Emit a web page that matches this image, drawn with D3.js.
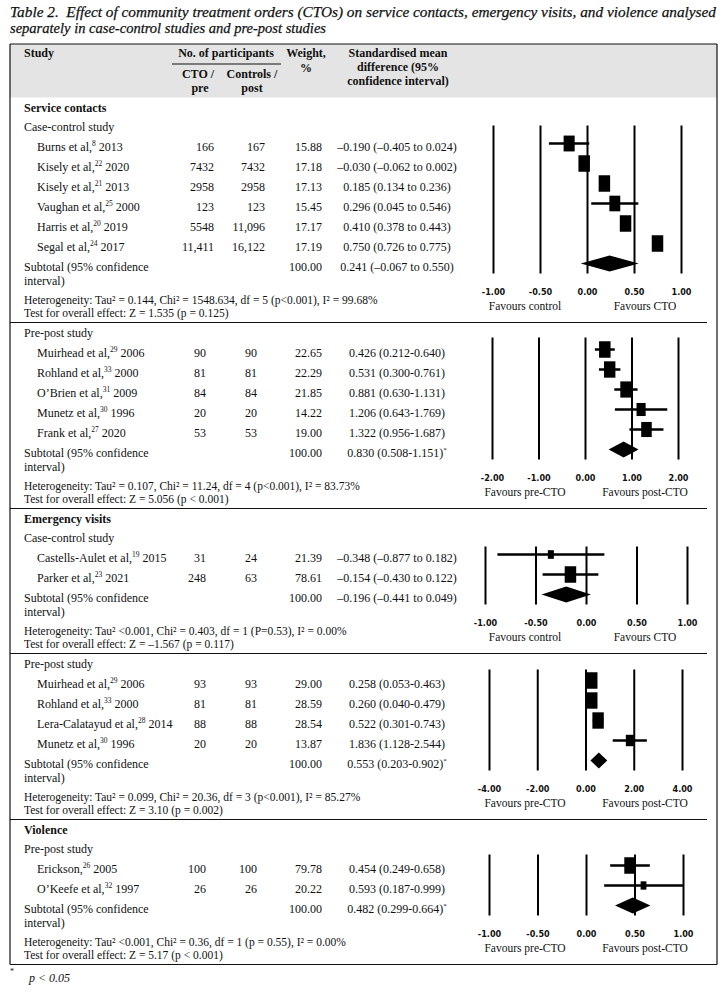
<!DOCTYPE html>
<html>
<head>
<meta charset="utf-8">
<script src="https://cdn.jsdelivr.net/npm/d3@7"></script>
<style>
  body { margin: 0; background: #fff; }
  svg text { font-family: "Liberation Serif", "Times New Roman", serif; fill: #111; }
</style>
</head>
<body>
<script>
// ---- panel level data (one entry per sub-table)
const panelSection = ['Service contacts', '', 'Emergency visits', '', 'Violence']
const panelDesign = ['Case-control study', 'Pre-post study', 'Case-control study', 'Pre-post study', 'Pre-post study']
const panelTicks = [
    [-1, -0.5, 0, 0.5, 1],
    [-2, -1, 0, 1, 2],
    [-1, -0.5, 0, 0.5, 1],
    [-4, -2, 0, 2, 4],
    [-1, -0.5, 0, 0.5, 1]
]
const favoursLeft = ['Favours control', 'Favours pre-CTO', 'Favours control', 'Favours pre-CTO', 'Favours pre-CTO']
const favoursRight = ['Favours CTO', 'Favours post-CTO', 'Favours CTO', 'Favours post-CTO', 'Favours post-CTO']
const subtotalSmd = [0.241, 0.830, -0.196, 0.553, 0.482]
const subtotalLow = [-0.067, 0.508, -0.441, 0.203, 0.299]
const subtotalHigh = [0.550, 1.151, 0.049, 0.902, 0.664]
const subtotalSig = [false, true, false, true, true]
const heterogeneity = [
    'Heterogeneity: Tau² = 0.144, Chi² = 1548.634, df = 5 (p<0.001), I² = 99.68%',
    'Heterogeneity: Tau² = 0.107, Chi² = 11.24, df = 4 (p<0.001), I² = 83.73%',
    'Heterogeneity: Tau² <0.001, Chi² = 0.403, df = 1 (P=0.53), I²  = 0.00%',
    'Heterogeneity: Tau² = 0.099, Chi² = 20.36, df = 3 (p<0.001), I² = 85.27%',
    'Heterogeneity: Tau² <0.001, Chi² = 0.36, df = 1 (p = 0.55), I² = 0.00%'
]
const overallEffect = [
    'Test for overall effect: Z = 1.535 (p = 0.125)',
    'Test for overall effect: Z = 5.056 (p < 0.001)',
    'Test for overall effect: Z = –1.567 (p = 0.117)',
    'Test for overall effect: Z = 3.10 (p = 0.002)',
    'Test for overall effect: Z = 5.17 (p < 0.001)'
]

// ---- study level data
const studyPanel = [0, 0, 0, 0, 0, 0, 1, 1, 1, 1, 1, 2, 2, 3, 3, 3, 3, 4, 4]
const studyAuthor = ['Burns et al,', 'Kisely et al,', 'Kisely et al,', 'Vaughan et al,', 'Harris et al,', 'Segal et al,',
    'Muirhead et al,', 'Rohland et al,', 'O’Brien et al,', 'Munetz et al,', 'Frank et al,',
    'Castells-Aulet et al,', 'Parker et al,',
    'Muirhead et al,', 'Rohland et al,', 'Lera-Calatayud et al,', 'Munetz et al,',
    'Erickson,', 'O’Keefe et al,']
const studyRef = ['8', '22', '21', '25', '20', '24', '29', '33', '31', '30', '27', '19', '23', '29', '33', '28', '30', '26', '32']
const studyYear = ['2013', '2020', '2013', '2000', '2019', '2017', '2006', '2000', '2009', '1996', '2020', '2015', '2021',
    '2006', '2000', '2014', '1996', '2005', '1997']
const nCto = [166, 7432, 2958, 123, 5548, 11411, 90, 81, 84, 20, 53, 31, 248, 93, 81, 88, 20, 100, 26]
const nControl = [167, 7432, 2958, 123, 11096, 16122, 90, 81, 84, 20, 53, 24, 63, 93, 81, 88, 20, 100, 26]
const studyWeight = [15.88, 17.18, 17.13, 15.45, 17.17, 17.19, 22.65, 22.29, 21.85, 14.22, 19.00, 21.39, 78.61,
    29.00, 28.59, 28.54, 13.87, 79.78, 20.22]
const studySmd = [-0.190, -0.030, 0.185, 0.296, 0.410, 0.750, 0.426, 0.531, 0.881, 1.206, 1.322, -0.348, -0.154,
    0.258, 0.260, 0.522, 1.836, 0.454, 0.593]
const ciLow = [-0.405, -0.062, 0.134, 0.045, 0.378, 0.726, 0.212, 0.300, 0.630, 0.643, 0.956, -0.877, -0.430,
    0.053, 0.040, 0.301, 1.128, 0.249, 0.187]
const ciHigh = [0.024, 0.002, 0.236, 0.546, 0.443, 0.775, 0.640, 0.761, 1.131, 1.769, 1.687, 0.182, 0.122,
    0.463, 0.479, 0.743, 2.544, 0.658, 0.999]

// ---- layout
const W = 727, H = 992
const left = 10, right = 717, sepEnd = 707
const plotRange = [[493, 681], [492, 678], [485, 687], [489, 682], [489, 683]]
const gridTopPad = [21, 15, 11, 14, 14]

const svg = d3.select('body').append('svg').attr('width', W).attr('height', H)

const fmt = v => (v < 0 ? '–' : '') + Math.abs(v).toFixed(3)
const fmtN = n => n >= 10000 ? d3.format(',')(n) : String(n)

// title
svg.append('text').attr('x', left).attr('y', 16.5)
    .attr('font-size', 15.5).attr('font-style', 'italic')
    .attr('textLength', 706).attr('lengthAdjust', 'spacingAndGlyphs')
    .attr('stroke', '#111').attr('stroke-width', 0.25)
    .text('Table 2.\u00a0 Effect of community treatment orders (CTOs) on service contacts, emergency visits, and violence analysed')
svg.append('text').attr('x', left).attr('y', 33)
    .attr('font-size', 15.5).attr('font-style', 'italic')
    .attr('textLength', 316).attr('lengthAdjust', 'spacingAndGlyphs')
    .attr('stroke', '#111').attr('stroke-width', 0.25)
    .text('separately in case-control studies and pre-post studies')

// header
const headTop = 44, headBottom = 97.5
svg.append('rect').attr('x', left).attr('y', headTop).attr('width', right - left).attr('height', headBottom - headTop)
    .attr('fill', '#e4e4e4')
const head = svg.append('g').attr('font-size', 12).attr('font-weight', 'bold')
const headText = (x, y, t, anchor) => head.append('text').attr('x', x).attr('y', y)
    .attr('text-anchor', anchor || 'middle').text(t)
headText(24, 57, 'Study', 'start')
headText(226, 57, 'No. of participants')
svg.append('line').attr('x1', 172).attr('x2', 281).attr('y1', 64).attr('y2', 64).attr('stroke', '#111').attr('stroke-width', 1)
headText(198, 78, 'CTO /')
headText(200, 92, 'pre')
headText(252, 78, 'Controls /')
headText(252, 92, 'post')
headText(306, 57, 'Weight,')
headText(306, 72, '%')
headText(398, 57, 'Standardised mean')
headText(398, 71, 'difference (95%')
headText(398, 85, 'confidence interval)')

// panels
const body = svg.append('g').attr('font-size', 12)
let yTop = headBottom
panelDesign.forEach((design, p) => {
    const idx = d3.range(studyPanel.length).filter(i => studyPanel[i] === p)
    const caseControl = design.startsWith('Case')
    let cy = yTop + 10
    if (panelSection[p]) {
        body.append('text').attr('x', 24).attr('y', cy + 4).attr('font-weight', 'bold').text(panelSection[p])
        cy += 19
    }
    body.append('text').attr('x', 24).attr('y', cy + 4).text(design)
    const rowY = idx.map((_, k) => cy + 20 * (k + 1))
    const subY = cy + 20 * (idx.length + 1)
    const hetY = subY + 33
    const testY = hetY + 13
    const bottom = testY + 10

    const n1x = p === 0 ? 214 : 206
    const n2x = p === 0 ? 265 : 257
    idx.forEach((i, k) => {
        const y = rowY[k] + 4
        const t = body.append('text').attr('x', 37).attr('y', y)
        t.append('tspan').text(studyAuthor[i])
        t.append('tspan').attr('font-size', 7.5).attr('dy', -4.5).text(studyRef[i])
        t.append('tspan').attr('dy', 4.5).text(' ' + studyYear[i])
        body.append('text').attr('x', n1x).attr('y', y).attr('text-anchor', 'end').text(fmtN(nCto[i]))
        body.append('text').attr('x', n2x).attr('y', y).attr('text-anchor', 'end').text(fmtN(nControl[i]))
        body.append('text').attr('x', 322).attr('y', y).attr('text-anchor', 'end').text(studyWeight[i].toFixed(2))
        body.append('text').attr('x', 397).attr('y', y).attr('text-anchor', 'middle')
            .text(`${fmt(studySmd[i])} (${fmt(ciLow[i])}${caseControl ? ' to ' : '-'}${fmt(ciHigh[i])})`)
    })
    body.append('text').attr('x', 24).attr('y', subY + 4).text('Subtotal (95% confidence')
    body.append('text').attr('x', 24).attr('y', subY + 18).text('interval)')
    body.append('text').attr('x', 322).attr('y', subY + 4).attr('text-anchor', 'end').text('100.00')
    const st = body.append('text').attr('x', 397).attr('y', subY + 4).attr('text-anchor', 'middle')
    st.append('tspan').text(`${fmt(subtotalSmd[p])} (${fmt(subtotalLow[p])}${caseControl ? ' to ' : '-'}${fmt(subtotalHigh[p])})`)
    if (subtotalSig[p]) st.append('tspan').attr('font-size', 7).attr('dy', -5).text('*')
    body.append('text').attr('x', 24).attr('y', hetY + 4).attr('font-size', 11.5).text(heterogeneity[p])
    body.append('text').attr('x', 24).attr('y', testY + 4).attr('font-size', 11.5).text(overallEffect[p])

    // forest plot
    const x = d3.scaleLinear().domain(d3.extent(panelTicks[p])).range(plotRange[p])
    const gTop = rowY[0] - gridTopPad[p]
    const gBottom = bottom - 49
    const axis = d3.axisBottom(x).tickValues(panelTicks[p]).tickFormat(d => d.toFixed(2))
        .tickSizeInner(-(gBottom - gTop)).tickSizeOuter(0).tickPadding(15)
    const ax = svg.append('g').attr('transform', `translate(0,${gBottom})`).call(axis)
        .attr('font-family', '"Liberation Sans Narrow", "DejaVu Sans Condensed", sans-serif')
        .attr('font-size', 9).attr('font-weight', 'bold').attr('color', '#000')
    ax.select('.domain').remove()
    ax.selectAll('.tick line').attr('stroke-width', 2)
    ax.selectAll('.tick text').style('font-family', '"Liberation Sans Narrow", "DejaVu Sans Condensed", sans-serif')

    svg.append('text').attr('x', 525).attr('y', bottom - 13).attr('text-anchor', 'middle').attr('font-size', 11.5).text(favoursLeft[p])
    svg.append('text').attr('x', 645).attr('y', bottom - 13).attr('text-anchor', 'middle').attr('font-size', 11.5).text(favoursRight[p])

    const maxW = d3.max(idx, i => studyWeight[i])
    const marks = svg.append('g')
    idx.forEach((i, k) => {
        const y = rowY[k] - 3
        marks.append('line').attr('x1', x(ciLow[i])).attr('x2', x(ciHigh[i])).attr('y1', y).attr('y2', y)
            .attr('stroke', '#000').attr('stroke-width', 2.5)
        const s = Math.sqrt(studyWeight[i] / maxW)
        const bw = 11.5 * s, bh = 16.5 * s
        marks.append('rect').attr('x', x(studySmd[i]) - bw / 2).attr('y', y - bh / 2)
            .attr('width', bw).attr('height', bh).attr('fill', '#000')
    })
    const dy = subY - 3
    marks.append('path').attr('fill', '#000')
        .attr('d', `M${x(subtotalLow[p])},${dy}L${x(subtotalSmd[p])},${dy - 8}L${x(subtotalHigh[p])},${dy}L${x(subtotalSmd[p])},${dy + 8}Z`)

    // separator under the panel
    if (p < panelDesign.length - 1) {
        svg.append('line').attr('x1', left).attr('x2', sepEnd).attr('y1', bottom).attr('y2', bottom)
            .attr('stroke', '#111').attr('stroke-width', 1.2)
    }
    yTop = bottom
})

// table frame
svg.append('line').attr('x1', left).attr('x2', right).attr('y1', headTop).attr('y2', headTop).attr('stroke', '#111').attr('stroke-width', 1.2)
svg.append('line').attr('x1', left).attr('x2', right).attr('y1', yTop).attr('y2', yTop).attr('stroke', '#111').attr('stroke-width', 1.2)
svg.append('line').attr('x1', left).attr('x2', left).attr('y1', headTop).attr('y2', yTop).attr('stroke', '#111').attr('stroke-width', 1.2)
svg.append('line').attr('x1', right).attr('x2', right).attr('y1', headTop).attr('y2', yTop).attr('stroke', '#111').attr('stroke-width', 1.2)

// footnote
svg.append('text').attr('x', left).attr('y', yTop + 9).attr('font-size', 8).text('*')
svg.append('text').attr('x', 29).attr('y', yTop + 17).attr('font-size', 12).attr('font-style', 'italic').text('p < 0.05')
</script>
</body>
</html>
